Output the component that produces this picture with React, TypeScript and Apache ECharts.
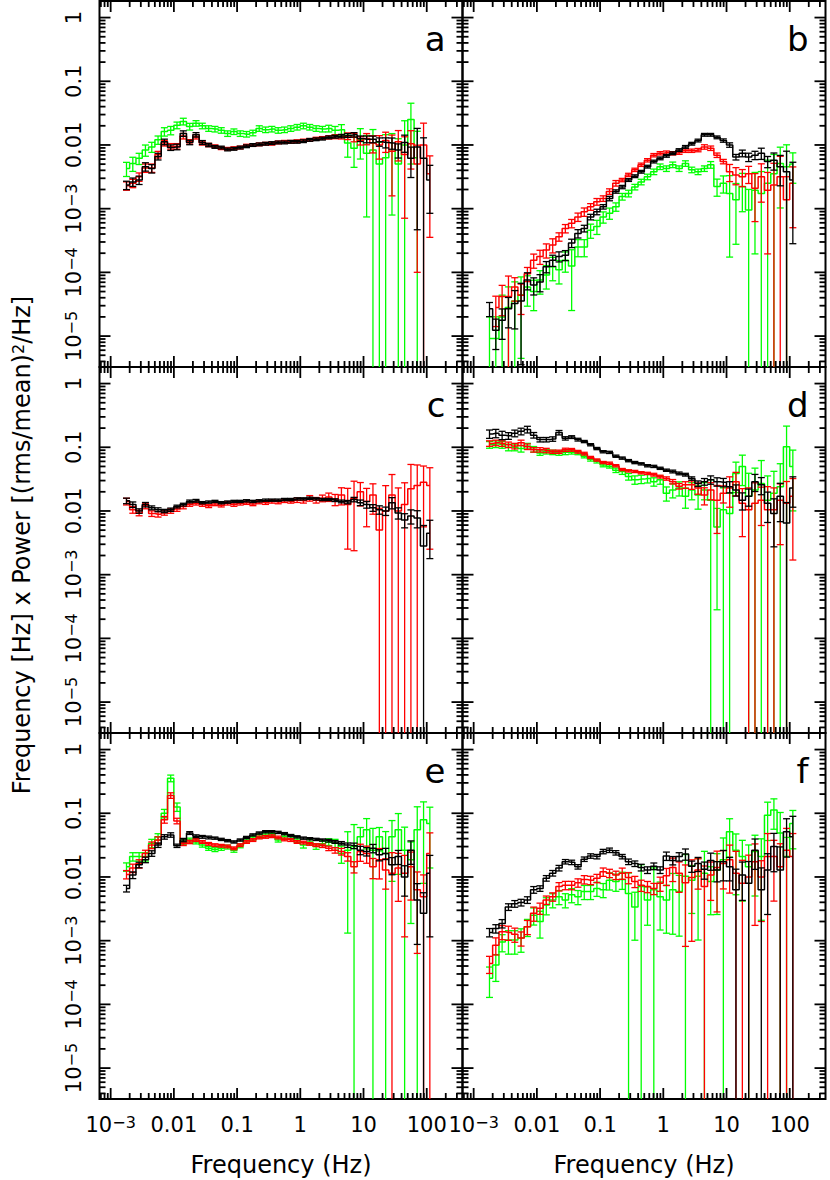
import React, { useEffect, useRef } from "react";
import * as echarts from "echarts";

// Frequency bin centres (Hz), shared by all panels
const FREQ = [0.00178, 0.00224, 0.00282, 0.00355, 0.00447, 0.00562, 0.00708, 0.00891, 0.0112, 0.0141, 0.0178, 0.0224, 0.0282, 0.0355, 0.0447, 0.0562, 0.0708, 0.0891, 0.112, 0.141, 0.178, 0.224, 0.282, 0.355, 0.447, 0.562, 0.708, 0.891, 1.12, 1.41, 1.78, 2.24, 2.82, 3.55, 4.47, 5.62, 7.08, 8.91, 11.2, 14.1, 17.8, 22.4, 28.2, 35.5, 44.7, 56.2, 70.8, 89.1, 112];

// Values are log10 of (Frequency x Power); errors are fractional (sigma / value)
const A_BLACK_LOG = [-2.63,-2.58,-2.55,-2.34,-2.37,-2.18,-1.95,-2.04,-2.03,-1.82,-1.96,-1.84,-1.96,-2.0,-2.03,-2.04,-2.07,-2.06,-2.04,-2.02,-2.0,-1.99,-1.98,-1.97,-1.96,-1.96,-1.95,-1.95,-1.94,-1.92,-1.91,-1.9,-1.88,-1.87,-1.86,-1.85,-1.84,-1.9,-1.91,-1.91,-1.95,-1.96,-1.97,-2.08,-1.96,-2.21,-2.03,-2.21,-2.55];
const A_BLACK_ERR = [.15,.15,.15,.15,.15,.12,.1,.1,.1,.1,.08,.08,.07,.06,.05,.05,.05,.05,.05,.05,.05,.05,.05,.05,.05,.05,.05,.05,.05,.05,.05,.05,.05,.05,.06,.07,.08,.1,.12,.12,.15,.18,.2,.25,.3,.5,.95,1.1,.7];
const A_RED_LOG = [-2.64,-2.6,-2.5,-2.36,-2.36,-2.15,-1.97,-2.02,-2.02,-1.86,-1.95,-1.87,-1.97,-2.0,-2.02,-2.05,-2.06,-2.05,-2.04,-2.01,-2.0,-1.99,-1.98,-1.98,-1.96,-1.95,-1.95,-1.94,-1.93,-1.92,-1.9,-1.89,-1.88,-1.87,-1.87,-1.86,-1.88,-1.93,-1.9,-1.97,-2.0,-1.93,-2.1,-1.95,-2.15,-1.98,-2.3,-2.0,-2.45];
const A_RED_ERR = [.15,.15,.15,.15,.15,.12,.1,.1,.1,.1,.08,.08,.07,.06,.05,.05,.05,.05,.05,.05,.05,.05,.05,.05,.05,.05,.05,.05,.05,.05,.05,.05,.06,.07,.08,.12,.15,.15,.2,.3,.4,.35,.8,.5,.9,.6,.98,1.2,.9];
const A_GREEN_LOG = [-2.37,-2.29,-2.21,-2.08,-2.03,-1.92,-1.79,-1.77,-1.69,-1.63,-1.71,-1.66,-1.7,-1.74,-1.75,-1.77,-1.82,-1.79,-1.82,-1.83,-1.81,-1.74,-1.76,-1.75,-1.77,-1.76,-1.74,-1.72,-1.7,-1.72,-1.74,-1.75,-1.74,-1.77,-1.76,-1.97,-2.05,-1.92,-2.13,-2.08,-2.3,-2.2,-2.1,-2.3,-2.0,-1.6,-2.2,null,null];
const A_GREEN_ERR = [.25,.25,.2,.2,.18,.15,.15,.15,.12,.12,.12,.1,.1,.1,.1,.1,.1,.1,.1,.1,.1,.1,.1,.1,.1,.1,.1,.1,.1,.1,.1,.1,.12,.15,.2,.4,.5,.5,.9,1.1,1.2,1.3,.9,1.5,1.4,.8,1.6,null,null];

const B_BLACK_LOG = [-4.57,-4.91,-4.75,-4.57,-4.49,-4.45,-4.12,-4.2,-4.15,-3.91,-3.81,-3.75,-3.73,-3.54,-3.39,-3.31,-3.13,-3.05,-2.97,-2.84,-2.73,-2.66,-2.55,-2.49,-2.42,-2.34,-2.26,-2.21,-2.17,-2.13,-2.08,-2.03,-1.98,-1.93,-1.84,-1.84,-1.88,-1.93,-2.0,-2.19,-2.13,-2.19,-2.16,-2.13,-2.26,-2.24,-2.34,-2.42,-2.55];
const B_BLACK_ERR = [.25,.5,.5,.5,.6,.9,.3,.3,.3,.2,.2,.18,.18,.15,.15,.12,.1,.1,.08,.08,.06,.06,.05,.05,.05,.05,.05,.05,.05,.05,.05,.05,.05,.05,.05,.05,.05,.06,.08,.1,.12,.15,.15,.2,.2,.3,.5,1.1,.9];
const B_RED_LOG = [null,-4.55,-4.38,-4.38,-4.23,-4.36,-4.02,-3.81,-3.75,-3.65,-3.57,-3.44,-3.31,-3.23,-3.13,-3.05,-2.97,-2.89,-2.84,-2.73,-2.6,-2.55,-2.47,-2.39,-2.31,-2.24,-2.16,-2.13,-2.12,-2.13,-2.12,-2.09,-2.09,-2.08,-2.03,-2.05,-2.16,-2.26,-2.42,-2.47,-2.5,-2.45,-2.68,-2.5,-2.71,-2.63,-2.5,-2.86,-2.6];
const B_RED_ERR = [null,.5,.5,1.1,.4,.5,.25,.25,.25,.25,.25,.15,.15,.15,.15,.15,.12,.12,.1,.1,.1,.06,.06,.06,.06,.06,.06,.06,.06,.06,.06,.06,.06,.06,.08,.08,.08,.08,.3,.3,.3,.3,.7,.6,.9,1.2,1.1,1.3,.8];
const B_GREEN_LOG = [-5.04,-5.04,-4.7,-4.55,-4.45,-4.35,-4.23,-4.3,-4.12,-4.04,-3.91,-3.96,-3.81,-3.9,-3.6,-3.6,-3.34,-3.28,-3.13,-3.07,-2.97,-2.81,-2.76,-2.66,-2.58,-2.5,-2.42,-2.34,-2.37,-2.31,-2.37,-2.29,-2.39,-2.42,-2.37,-2.31,-2.65,-2.6,-2.76,-2.86,-2.65,-3.02,-2.71,-2.76,-2.6,-2.45,-2.29,-2.34,-2.3];
const B_GREEN_ERR = [1.2,1.2,1.2,1.1,1.0,.9,.5,.5,.4,.4,.4,.4,.35,.8,.3,.3,.25,.25,.2,.2,.15,.12,.12,.1,.1,.1,.1,.1,.1,.1,.1,.1,.1,.1,.1,.12,.3,.3,.9,.8,.6,1.1,.9,1.2,1.3,1.0,.8,1.2,.5];

const C_BLACK_LOG = [-1.84,-1.9,-2.0,-1.9,-1.95,-1.98,-2.0,-1.98,-1.93,-1.9,-1.85,-1.84,-1.87,-1.86,-1.85,-1.87,-1.86,-1.85,-1.85,-1.84,-1.85,-1.84,-1.83,-1.83,-1.83,-1.82,-1.82,-1.81,-1.81,-1.8,-1.81,-1.82,-1.82,-1.83,-1.85,-1.86,-1.82,-1.87,-1.9,-1.95,-1.98,-2.0,-1.87,-2.03,-2.14,-2.08,-2.11,-2.55,-2.35];
const C_BLACK_ERR = [.1,.1,.08,.08,.07,.07,.06,.06,.05,.05,.05,.05,.04,.04,.04,.04,.04,.04,.04,.04,.04,.04,.04,.04,.04,.04,.04,.04,.04,.04,.04,.04,.04,.05,.05,.06,.08,.1,.12,.12,.15,.15,.2,.2,.25,.25,.3,1.1,.6];
const C_RED_LOG = [-1.85,-1.98,-2.03,-1.92,-2.04,-2.05,-2.03,-2.0,-1.97,-1.93,-1.9,-1.88,-1.9,-1.92,-1.89,-1.91,-1.88,-1.9,-1.88,-1.87,-1.89,-1.86,-1.87,-1.85,-1.86,-1.84,-1.85,-1.83,-1.84,-1.8,-1.83,-1.8,-1.78,-1.82,-1.75,-1.9,-1.8,-1.7,-1.85,-1.75,-2.3,-2.0,-1.75,-2.0,-1.9,-1.65,-1.6,-1.55,-1.6];
const C_RED_ERR = [.12,.12,.1,.1,.1,.1,.08,.08,.08,.08,.06,.06,.06,.06,.06,.06,.06,.06,.06,.06,.06,.06,.06,.06,.06,.06,.06,.08,.08,.1,.1,.12,.15,.2,.3,.8,.85,.4,.6,.5,1.2,1.5,1.1,1.3,1.2,1.4,1.1,.8,.9];

const D_BLACK_LOG = [-0.79,-0.78,-0.81,-0.82,-0.78,-0.75,-0.72,-0.81,-0.88,-0.88,-0.87,-0.77,-0.86,-0.84,-0.88,-0.91,-0.96,-1.02,-1.07,-1.08,-1.14,-1.17,-1.21,-1.24,-1.26,-1.29,-1.3,-1.33,-1.36,-1.38,-1.41,-1.43,-1.49,-1.57,-1.54,-1.51,-1.54,-1.55,-1.62,-1.67,-1.83,-1.77,-1.54,-1.59,-1.88,-2.04,-1.77,-2.19,-1.64];
const D_BLACK_ERR = [.15,.15,.15,.12,.12,.12,.12,.1,.08,.08,.08,.08,.06,.05,.05,.04,.04,.04,.04,.04,.04,.04,.04,.04,.04,.04,.04,.04,.04,.05,.05,.05,.06,.1,.12,.15,.15,.15,.2,.2,.3,.3,.3,.3,.5,.7,.6,1.1,.5];
const D_RED_LOG = [-0.94,-0.93,-0.94,-0.96,-0.98,-0.93,-0.99,-1.04,-1.04,-1.05,-1.07,-1.07,-1.04,-1.04,-1.07,-1.1,-1.16,-1.2,-1.24,-1.25,-1.29,-1.35,-1.37,-1.38,-1.4,-1.41,-1.43,-1.46,-1.49,-1.54,-1.61,-1.59,-1.59,-1.64,-1.75,-1.67,-1.83,-1.72,-1.64,-1.54,-1.88,-1.98,-1.88,-1.83,-1.98,-1.98,-1.83,-1.88,-1.77];
const D_RED_ERR = [.1,.1,.1,.1,.1,.1,.1,.08,.08,.08,.06,.06,.06,.05,.05,.05,.04,.04,.04,.04,.04,.04,.04,.04,.04,.04,.05,.05,.06,.08,.1,.12,.15,.2,.3,.3,.7,.3,.5,.4,.7,1.2,1.1,.6,1.3,1.2,.8,1.2,.9];
const D_GREEN_LOG = [-0.96,-0.95,-0.96,-1.0,-1.0,-1.02,-0.98,-1.03,-1.09,-1.07,-1.08,-1.09,-1.08,-1.08,-1.09,-1.14,-1.19,-1.22,-1.28,-1.3,-1.36,-1.38,-1.46,-1.51,-1.5,-1.49,-1.54,-1.51,-1.72,-1.67,-1.64,-1.77,-1.67,-1.75,-1.67,-1.83,-2.25,-1.98,-2.04,-1.41,-1.3,-1.77,-1.67,-1.57,-1.83,-1.72,-1.62,-0.99,-1.3];
const D_GREEN_ERR = [.12,.12,.12,.12,.12,.12,.1,.1,.08,.08,.08,.08,.08,.06,.06,.06,.06,.06,.06,.06,.08,.1,.12,.15,.15,.15,.15,.15,.25,.25,.25,.35,.3,.4,.3,1.1,.95,1.2,1.1,.5,.5,1.3,1.2,1.3,1.4,1.2,1.3,1.1,.8];

const E_BLACK_LOG = [-2.18,-1.97,-1.81,-1.73,-1.63,-1.5,-1.37,-1.34,-1.51,-1.42,-1.31,-1.36,-1.37,-1.38,-1.39,-1.41,-1.43,-1.45,-1.42,-1.38,-1.34,-1.31,-1.29,-1.29,-1.3,-1.32,-1.35,-1.37,-1.39,-1.4,-1.41,-1.42,-1.43,-1.45,-1.47,-1.5,-1.51,-1.58,-1.6,-1.55,-1.65,-1.63,-1.81,-1.68,-2.0,-1.58,-2.36,-2.57,-1.94];
const E_BLACK_ERR = [.12,.12,.1,.1,.1,.08,.08,.08,.06,.06,.05,.05,.05,.05,.04,.04,.04,.04,.04,.04,.04,.04,.04,.04,.04,.04,.04,.04,.04,.04,.04,.04,.05,.05,.06,.08,.1,.15,.15,.15,.2,.2,.3,.25,.5,.4,.8,1.1,.9];
const E_RED_LOG = [-1.96,-1.86,-1.79,-1.63,-1.5,-1.42,-1.1,-0.72,-1.12,-1.48,-1.45,-1.42,-1.45,-1.48,-1.5,-1.51,-1.52,-1.55,-1.5,-1.45,-1.42,-1.38,-1.37,-1.36,-1.38,-1.41,-1.42,-1.45,-1.46,-1.48,-1.5,-1.51,-1.55,-1.58,-1.6,-1.68,-1.84,-1.6,-1.63,-1.84,-1.73,-1.89,-1.94,-1.86,-1.94,-1.84,-2.2,-2.31,-1.63];
const E_RED_ERR = [.15,.15,.15,.12,.12,.12,.12,.1,.1,.06,.06,.05,.05,.05,.05,.05,.05,.05,.05,.05,.05,.05,.05,.05,.05,.05,.05,.05,.05,.05,.05,.06,.08,.1,.12,.15,.2,.3,.3,.35,.5,.5,1.1,.7,.9,.7,.9,1.2,1.1];
const E_GREEN_LOG = [-1.84,-1.68,-1.68,-1.68,-1.47,-1.37,-1.0,-0.45,-0.9,-1.45,-1.42,-1.45,-1.5,-1.55,-1.57,-1.55,-1.53,-1.58,-1.51,-1.42,-1.39,-1.36,-1.34,-1.32,-1.42,-1.36,-1.37,-1.42,-1.5,-1.45,-1.52,-1.48,-1.45,-1.47,-1.63,-1.58,-1.52,-1.37,-1.26,-1.58,-1.37,-1.63,-1.37,-1.26,-1.58,-1.73,-1.26,-1.1,-1.16];
const E_GREEN_ERR = [.15,.15,.15,.15,.15,.12,.15,.12,.15,.08,.07,.07,.07,.07,.07,.07,.07,.07,.07,.07,.07,.07,.07,.07,.07,.07,.08,.08,.1,.1,.1,.12,.12,.15,.3,.95,1.2,.4,.5,1.2,.4,1.2,.8,.8,1.3,.9,1.3,.9,.8];

const F_BLACK_LOG = [-2.87,-2.81,-2.73,-2.47,-2.42,-2.4,-2.36,-2.2,-2.18,-2.02,-1.94,-1.86,-1.76,-1.77,-1.84,-1.72,-1.67,-1.68,-1.6,-1.58,-1.62,-1.68,-1.76,-1.79,-1.85,-1.89,-1.83,-1.89,-1.67,-1.74,-1.68,-1.64,-1.83,-1.79,-1.88,-1.74,-1.89,-1.76,-1.84,-2.2,-1.97,-2.1,-1.58,-2.2,-1.89,-1.52,-1.89,-1.29,-1.37];
const F_BLACK_ERR = [.15,.15,.15,.12,.12,.12,.12,.12,.1,.1,.1,.1,.08,.08,.08,.08,.08,.08,.08,.08,.08,.08,.1,.1,.12,.12,.12,.12,.15,.15,.15,.2,.2,.25,.3,.3,.35,.5,.4,1.1,.6,1.2,.5,1.2,.8,.6,1.3,.6,1.1];
const F_RED_LOG = [-3.36,-3.07,-2.86,-2.87,-2.9,-2.96,-2.78,-2.57,-2.49,-2.36,-2.31,-2.15,-2.13,-2.13,-2.09,-2.04,-2.05,-2.02,-1.92,-1.94,-1.97,-1.94,-2.01,-2.07,-2.13,-2.15,-2.18,-2.1,-1.98,-1.85,-1.94,-2.09,-2.01,-1.89,-2.15,-1.97,-1.85,-1.79,-1.73,-1.94,-2.1,-2.0,-1.76,-2.0,-1.68,-1.68,-1.84,-1.58,-1.68];
const F_RED_ERR = [.3,.3,.25,.25,.25,.25,.25,.25,.2,.15,.15,.15,.15,.15,.15,.15,.15,.15,.15,.15,.15,.2,.2,.2,.2,.2,.2,.25,.3,.4,.5,.9,.9,.5,1.1,.6,.8,.6,.7,1.2,1.3,1.2,.9,.8,1.3,.8,1.3,1.2,1.3];
const F_GREEN_LOG = [-3.59,-3.38,-3.02,-2.99,-2.99,-2.96,-2.78,-2.6,-2.7,-2.44,-2.36,-2.31,-2.36,-2.28,-2.31,-2.23,-2.23,-2.18,-2.2,-2.05,-2.07,-2.04,-2.26,-2.47,-2.15,-2.36,-2.2,-2.31,-2.36,-2.2,-2.23,-1.99,-2.05,-1.99,-1.94,-2.07,-1.89,-1.73,-1.29,-1.58,-1.68,-1.84,-1.6,-1.68,-1.03,-0.95,-1.31,-1.68,-1.16];
const F_GREEN_ERR = [.5,.45,.3,.4,.4,.4,.3,.3,.45,.3,.25,.25,.25,.25,.25,.25,.25,.25,.25,.3,.3,.3,1.1,.7,1.2,.6,1.2,.7,.7,.8,.8,1.2,.7,.9,1.2,.7,.8,1.2,.6,.8,.8,1.2,.8,.9,.6,.5,1.1,1.0,.6];

// Axis ticks and labels
const X_MAJOR_TICKS = [0.001, 0.01, 0.1, 1, 10, 100];
const X_MINOR_TICKS = [0.0007, 0.0008, 0.0009, 0.002, 0.003, 0.004, 0.005, 0.006, 0.007, 0.008, 0.009, 0.02, 0.03, 0.04, 0.05, 0.06, 0.07, 0.08, 0.09, 0.2, 0.3, 0.4, 0.5, 0.6, 0.7, 0.8, 0.9, 2, 3, 4, 5, 6, 7, 8, 9, 20, 30, 40, 50, 60, 70, 80, 90, 200, 300];
const X_TICK_LABELS = ["10^\u22123", "0.01", "0.1", "1", "10", "100"];
const Y_MAJOR_TICKS = [1e-5, 1e-4, 1e-3, 0.01, 0.1, 1];
const Y_MINOR_TICKS = [4e-6, 5e-6, 6e-6, 7e-6, 8e-6, 9e-6, 2e-5, 3e-5, 4e-5, 5e-5, 6e-5, 7e-5, 8e-5, 9e-5, 2e-4, 3e-4, 4e-4, 5e-4, 6e-4, 7e-4, 8e-4, 9e-4, 0.002, 0.003, 0.004, 0.005, 0.006, 0.007, 0.008, 0.009, 0.02, 0.03, 0.04, 0.05, 0.06, 0.07, 0.08, 0.09, 0.2, 0.3, 0.4, 0.5, 0.6, 0.7, 0.8, 0.9];
const Y_TICK_LABELS = ["10^\u22125", "10^\u22124", "10^\u22123", "0.01", "0.1", "1"];

const X_MIN = 6.66e-4;
const X_MAX = 368;
const Y_MIN = 3.27e-6;
const Y_MAX = 1.82;

const PANEL_LETTERS = ["a", "b", "c", "d", "e", "f"];
const X_TITLE = "Frequency (Hz)";
const Y_TITLE = "{b|Frequency [Hz] x Power [(rms/mean)}{s|2}{b|/Hz]}";

const COLORS: Record<string, string> = { green: "#00ff00", red: "#ff0000", black: "#000000" };

const PANEL_SETS: any[] = [
  [["green", A_GREEN_LOG, A_GREEN_ERR], ["red", A_RED_LOG, A_RED_ERR], ["black", A_BLACK_LOG, A_BLACK_ERR]],
  [["green", B_GREEN_LOG, B_GREEN_ERR], ["red", B_RED_LOG, B_RED_ERR], ["black", B_BLACK_LOG, B_BLACK_ERR]],
  [["red", C_RED_LOG, C_RED_ERR], ["black", C_BLACK_LOG, C_BLACK_ERR]],
  [["green", D_GREEN_LOG, D_GREEN_ERR], ["red", D_RED_LOG, D_RED_ERR], ["black", D_BLACK_LOG, D_BLACK_ERR]],
  [["green", E_GREEN_LOG, E_GREEN_ERR], ["red", E_RED_LOG, E_RED_ERR], ["black", E_BLACK_LOG, E_BLACK_ERR]],
  [["green", F_GREEN_LOG, F_GREEN_ERR], ["red", F_RED_LOG, F_RED_ERR], ["black", F_BLACK_LOG, F_BLACK_ERR]],
];

// layout
const COL_LEFT = [99.5, 462.5];
const ROW_TOP = [1, 367, 733];
const PW = 363;
const PH = 366;
const FONT = "DejaVu Sans";

const richFmt = (s: string) => {
  const parts = s.split("^");
  return parts.length > 1 ? `{b|${parts[0]}}{s|${parts[1]}}` : `{b|${parts[0]}}`;
};

const TICK_RICH = {
  b: { fontSize: 21, lineHeight: 21, verticalAlign: "bottom", fontFamily: FONT, fill: "#000" },
  s: { fontSize: 16, lineHeight: 16, padding: [0, 0, 14, 0], verticalAlign: "top", fontFamily: FONT, fill: "#000" },
};

function renderErr(color: string) {
  return (params: any, api: any) => {
    const cs = params.coordSys;
    const top = cs.y;
    const bottom = cs.y + cs.height;
    const f = api.value(0);
    const p = api.value(1);
    const e = api.value(2);
    const hiPt = api.coord([f, p * (1 + e)]);
    const x = hiPt[0];
    const yHiRaw = hiPt[1];
    const lo = p * (1 - e);
    const yLoRaw = lo > 0 ? api.coord([f, lo])[1] : bottom + 100;
    const yHi = Math.max(top, yHiRaw);
    const yLo = Math.min(bottom, yLoRaw);
    const st = { stroke: color, lineWidth: 1.3 };
    const children: any[] = [{ type: "line", shape: { x1: x, y1: yHi, x2: x, y2: yLo }, style: st }];
    if (yHiRaw >= top) children.push({ type: "line", shape: { x1: x - 3.5, y1: yHiRaw, x2: x + 3.5, y2: yHiRaw }, style: st });
    if (yLoRaw <= bottom) children.push({ type: "line", shape: { x1: x - 3.5, y1: yLoRaw, x2: x + 3.5, y2: yLoRaw }, style: st });
    return { type: "group", children };
  };
}

function renderXTick(params: any, api: any) {
  const cs = params.coordSys;
  const x = api.coord([api.value(0), 0.01])[0];
  const len = api.value(2) ? 11 : 6;
  const st = { stroke: "#000", lineWidth: 1.8 };
  const b = cs.y + cs.height;
  return {
    type: "group",
    children: [
      { type: "line", shape: { x1: x, y1: b, x2: x, y2: b - len }, style: st },
      { type: "line", shape: { x1: x, y1: cs.y, x2: x, y2: cs.y + len }, style: st },
    ],
  };
}

function renderYTick(params: any, api: any) {
  const cs = params.coordSys;
  const y = api.coord([0.01, api.value(1)])[1];
  const len = api.value(2) ? 11 : 6;
  const st = { stroke: "#000", lineWidth: 1.8 };
  const r = cs.x + cs.width;
  return {
    type: "group",
    children: [
      { type: "line", shape: { x1: cs.x, y1: y, x2: cs.x + len, y2: y }, style: st },
      { type: "line", shape: { x1: r, y1: y, x2: r - len, y2: y }, style: st },
    ],
  };
}

function renderXLabel(params: any, api: any) {
  const cs = params.coordSys;
  const x = api.coord([api.value(0), 0.01])[0];
  const idx = api.value(2);
  return {
    type: "text",
    x,
    y: cs.y + cs.height + 36,
    style: { text: richFmt(X_TICK_LABELS[idx]), rich: TICK_RICH, fontFamily: FONT, fontSize: 21, fill: "#000", align: "center", verticalAlign: "bottom" },
  };
}

function renderYLabel(params: any, api: any) {
  const cs = params.coordSys;
  const y = api.coord([0.01, api.value(1)])[1];
  const idx = api.value(2);
  return {
    type: "text",
    x: cs.x - 15,
    y,
    rotation: Math.PI / 2,
    style: { text: richFmt(Y_TICK_LABELS[idx]), rich: TICK_RICH, fontFamily: FONT, fontSize: 21, fill: "#000", align: "center", verticalAlign: "bottom" },
  };
}

function buildOption() {
  const grid: any[] = [];
  const xAxis: any[] = [];
  const yAxis: any[] = [];
  const series: any[] = [];
  const graphic: any[] = [];

  PANEL_SETS.forEach((sets: any[], i: number) => {
    const col = i % 2;
    const row = Math.floor(i / 2);
    grid.push({ left: COL_LEFT[col], top: ROW_TOP[row], width: PW, height: PH, show: true, borderColor: "#000", borderWidth: 2, backgroundColor: "transparent" });
    const hidden = { axisLine: { show: false }, axisTick: { show: false }, axisLabel: { show: false }, splitLine: { show: false } };
    xAxis.push({ type: "log", logBase: 10, gridIndex: i, min: X_MIN, max: X_MAX, ...hidden });
    yAxis.push({ type: "log", logBase: 10, gridIndex: i, min: Y_MIN, max: Y_MAX, ...hidden });

    sets.forEach(([cname, logs, errs]: any, si: number) => {
      const color = COLORS[cname];
      const pts: any[] = [];
      const ebs: any[] = [];
      FREQ.forEach((f, k) => {
        const v = logs[k];
        if (v === null || v === undefined) return;
        const p = Math.pow(10, v);
        pts.push([f, p]);
        ebs.push([f, p, errs[k]]);
      });
      series.push({
        type: "line", xAxisIndex: i, yAxisIndex: i, data: pts, step: "middle",
        symbol: "none", showSymbol: false, silent: true, clip: true,
        lineStyle: { color, width: 1.5 }, z: 2 + si,
      });
      series.push({
        type: "custom", xAxisIndex: i, yAxisIndex: i, data: ebs, encode: { x: 0, y: 1 },
        renderItem: renderErr(color), silent: true, z: 2 + si,
      });
    });

    series.push({
      type: "custom", xAxisIndex: i, yAxisIndex: i, encode: { x: 0, y: 1 }, silent: true, z: 10,
      data: [...X_MAJOR_TICKS.map((v) => [v, 0.01, 1]), ...X_MINOR_TICKS.map((v) => [v, 0.01, 0])],
      renderItem: renderXTick,
    });
    series.push({
      type: "custom", xAxisIndex: i, yAxisIndex: i, encode: { x: 0, y: 1 }, silent: true, z: 10,
      data: [...Y_MAJOR_TICKS.map((v) => [0.01, v, 1]), ...Y_MINOR_TICKS.map((v) => [0.01, v, 0])],
      renderItem: renderYTick,
    });
    if (row === 2) {
      series.push({
        type: "custom", xAxisIndex: i, yAxisIndex: i, encode: { x: 0, y: 1 }, silent: true, z: 10,
        data: X_MAJOR_TICKS.map((v, j) => [v, 0.01, j]), renderItem: renderXLabel,
      });
      graphic.push({
        type: "text", x: COL_LEFT[col] + PW / 2, y: 1165,
        style: { text: X_TITLE, fontFamily: FONT, fontSize: 24, fill: "#000", align: "center", verticalAlign: "middle" },
      });
    }
    if (col === 0) {
      series.push({
        type: "custom", xAxisIndex: i, yAxisIndex: i, encode: { x: 0, y: 1 }, silent: true, z: 10,
        data: Y_MAJOR_TICKS.map((v, j) => [0.01, v, j]), renderItem: renderYLabel,
      });
    }
    graphic.push({
      type: "text", x: COL_LEFT[col] + PW - 17, y: ROW_TOP[row] + 37.5,
      style: { text: PANEL_LETTERS[i], fontFamily: FONT, fontSize: 34, fill: "#000", align: "right", verticalAlign: "middle" },
    });
  });

  graphic.push({
    type: "text", x: 22, y: 545, rotation: Math.PI / 2,
    style: {
      text: Y_TITLE, fontFamily: FONT, fontSize: 24, fill: "#000", align: "center", verticalAlign: "middle",
      rich: {
        b: { fontSize: 24, lineHeight: 24, verticalAlign: "bottom", fontFamily: FONT, fill: "#000" },
        s: { fontSize: 16, lineHeight: 16, padding: [0, 0, 12, 0], verticalAlign: "top", fontFamily: FONT, fill: "#000" },
      },
    },
  });

  return { animation: false, backgroundColor: "#fff", grid, xAxis, yAxis, series, graphic };
}

export default function App() {
  const ref = useRef<HTMLDivElement>(null);
  useEffect(() => {
    if (!ref.current) return;
    const chart = echarts.init(ref.current, null, { renderer: "svg" });
    chart.setOption(buildOption() as any);
    return () => chart.dispose();
  }, []);
  return <div ref={ref} style={{ position: "absolute", left: 0, top: 0, width: 830, height: 1180, background: "#fff" }} />;
}
